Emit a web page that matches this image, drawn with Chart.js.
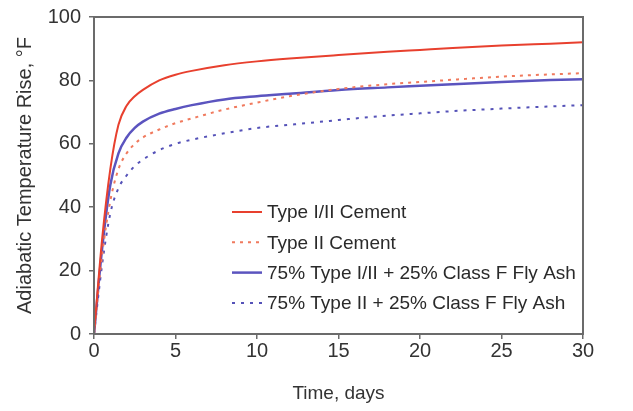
<!DOCTYPE html>
<html>
<head>
<meta charset="utf-8">
<script src="https://cdn.jsdelivr.net/npm/chart.js@4/dist/chart.umd.min.js"></script>
<style>
  body { margin: 0; background: #fff; }
  #wrap { width: 633px; height: 411px; }
</style>
</head>
<body>
<div id="wrap"><canvas id="heat-chart" width="633" height="411"></canvas></div>
<script>
// time in days
var days = [0, 0.5, 1, 1.5, 2, 2.5, 3, 4, 5, 6, 8, 10, 12, 15, 18, 20, 22, 25, 28, 30]

// temperature rise, deg F
var typeI_II = [0, 30, 52, 66, 72, 75, 77, 80, 81.8, 83, 84.8, 86, 86.9, 88, 89, 89.6, 90.2, 91, 91.6, 92]
var typeII = [0, 25, 42, 52, 57, 60, 62, 64.5, 66.5, 68, 70.8, 73, 75, 77.3, 78.8, 79.5, 80.2, 81.2, 81.9, 82.3]
var flyAshI_II = [0, 27, 47, 57, 62, 65, 67, 69.5, 71, 72.2, 74, 75, 75.8, 77, 77.8, 78.3, 78.8, 79.5, 80.1, 80.4]
var flyAshII = [0, 22, 38, 46, 50, 53, 55, 58, 60, 61.3, 63.3, 65, 66, 67.5, 68.9, 69.6, 70.3, 71.1, 71.8, 72.2]

var seriesLabels = ["Type I/II Cement", "Type II Cement", "75% Type I/II + 25% Class F Fly Ash", "75% Type II + 25% Class F Fly Ash"]
var xTicks = [0, 5, 10, 15, 20, 25, 30]
var yTicks = [0, 20, 40, 60, 80, 100]

var FONT = "'Liberation Sans', Arial, sans-serif"

function toPoints(values) {
    return days.map(function (d, i) { return { x: d, y: values[i] } })
}

// frame around the plot + legend drawn inside the plot
var framePlugin = {
    id: "frame",
    afterDatasetsDraw: function (chart) {
        var ctx = chart.ctx
        var a = chart.chartArea
        ctx.save()
        ctx.strokeStyle = "#6b6b6b"
        ctx.lineWidth = 2
        ctx.strokeRect(a.left, a.top, a.right - a.left, a.bottom - a.top)

        var x0 = 232, y0 = 212, gap = 30.3
        ctx.font = "19px " + FONT
        ctx.textBaseline = "middle"
        chart.data.datasets.forEach(function (ds, i) {
            var y = y0 + i * gap
            ctx.beginPath()
            ctx.strokeStyle = ds.borderColor
            ctx.lineWidth = ds.borderWidth
            ctx.setLineDash(ds.borderDash || [])
            ctx.moveTo(x0, y)
            ctx.lineTo(x0 + 30, y)
            ctx.stroke()
            ctx.setLineDash([])
            ctx.fillStyle = "#2a2a2a"
            ctx.fillText(ds.label, x0 + 35, y + 1)
        })
        ctx.restore()
    }
}

new Chart("heat-chart", {
    type: "line",
    data: {
        datasets: [
            { label: seriesLabels[0], data: toPoints(typeI_II), borderColor: "#e8402e", borderWidth: 2 },
            { label: seriesLabels[1], data: toPoints(typeII), borderColor: "#f07a5e", borderWidth: 2, borderDash: [3, 5] },
            { label: seriesLabels[2], data: toPoints(flyAshI_II), borderColor: "#5b54bf", borderWidth: 2.5 },
            { label: seriesLabels[3], data: toPoints(flyAshII), borderColor: "#5552b8", borderWidth: 2, borderDash: [3, 6] }
        ]
    },
    options: {
        responsive: false,
        animation: false,
        layout: { padding: { top: 17, right: 50, left: 0, bottom: 0 } },
        elements: {
            point: { radius: 0 },
            line: { cubicInterpolationMode: "monotone", fill: false }
        },
        plugins: {
            legend: { display: false },
            tooltip: { enabled: false }
        },
        scales: {
            x: {
                type: "linear",
                min: 0, max: 30,
                afterFit: function (scale) { scale.height = 77 },
                afterBuildTicks: function (scale) { scale.ticks = xTicks.map(function (v) { return { value: v } }) },
                grid: { drawOnChartArea: false, tickLength: 5, color: "#6b6b6b", lineWidth: 1.5 },
                border: { color: "#6b6b6b", width: 2 },
                ticks: { color: "#333", font: { family: FONT, size: 20 }, padding: 0, maxRotation: 0 },
                title: { display: true, text: "Time, days", color: "#333", font: { family: FONT, size: 19 }, padding: { top: 0, bottom: 6 } }
            },
            y: {
                min: 0, max: 100,
                afterFit: function (scale) {
                    scale.width = 94
                    scale.paddingTop = 0
                    scale.paddingBottom = 0
                },
                afterBuildTicks: function (scale) { scale.ticks = yTicks.map(function (v) { return { value: v } }) },
                grid: { drawOnChartArea: false, tickLength: 5, color: "#6b6b6b", lineWidth: 1.5 },
                border: { color: "#6b6b6b", width: 2 },
                ticks: { color: "#333", font: { family: FONT, size: 20 }, padding: 8 },
                title: { display: true, text: "Adiabatic Temperature Rise, °F", color: "#333", font: { family: FONT, size: 20 }, padding: { top: 13, bottom: 0 } }
            }
        }
    },
    plugins: [framePlugin]
})
</script>
</body>
</html>
